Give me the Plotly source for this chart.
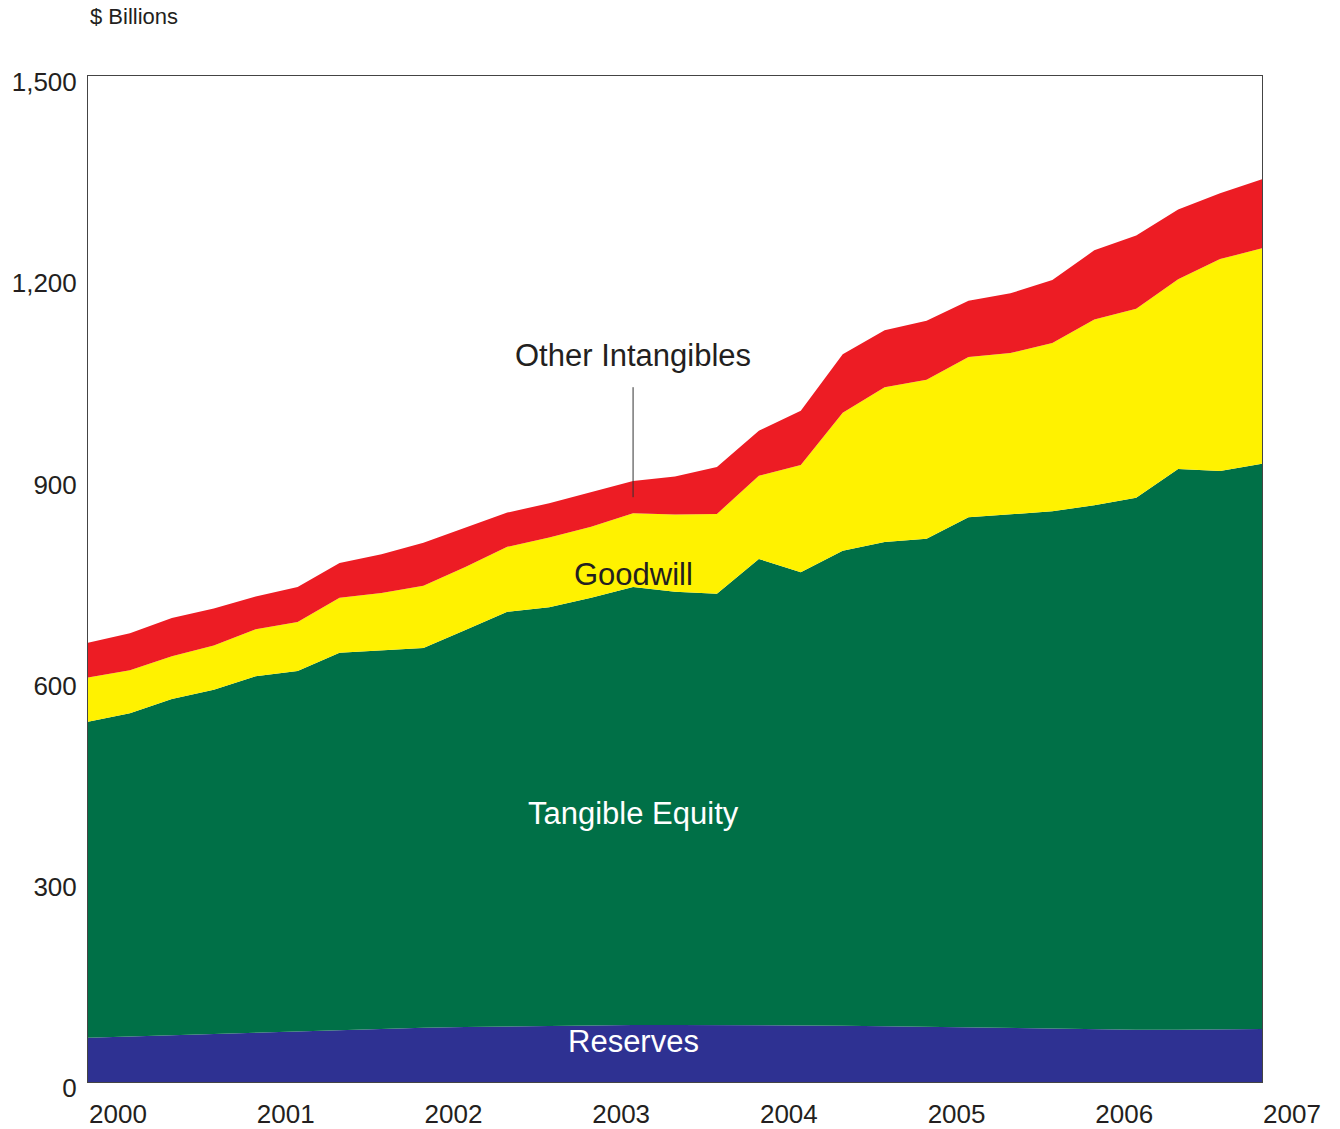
import plotly.graph_objects as go

# Quarterly observations, plotted on a fractional-year axis
quarters = [2000.00, 2000.25, 2000.50, 2000.75, 2001.00, 2001.25, 2001.50, 2001.75,
            2002.00, 2002.25, 2002.50, 2002.75, 2003.00, 2003.25, 2003.50, 2003.75,
            2004.00, 2004.25, 2004.50, 2004.75, 2005.00, 2005.25, 2005.50, 2005.75,
            2006.00, 2006.25, 2006.50, 2006.75, 2007.00]

# $ billions, stacked bottom to top
reserves = [66, 68, 70, 72, 73, 75, 77, 79, 81, 82, 83, 84, 84, 85, 85, 85,
            85, 85, 84, 83, 82, 81, 80, 79, 78, 78, 78, 78, 79]
tangible_equity = [471, 482, 501, 513, 532, 538, 563, 565, 566, 592, 618, 624, 638, 653, 646, 643,
                   695, 675, 708, 722, 728, 761, 767, 772, 782, 793, 836, 833, 843]
goodwill = [66, 64, 64, 66, 70, 73, 82, 85, 93, 94, 97, 104, 106, 110, 115, 119,
            124, 160, 206, 231, 237, 239, 240, 251, 277, 282, 283, 316, 321]
other_intangibles = [52, 55, 57, 55, 49, 52, 52, 58, 64, 58, 51, 51, 51, 48, 57, 70,
                     67, 81, 87, 85, 88, 84, 89, 94, 103, 109, 104, 98, 103]

year_ticks = [2000, 2001, 2002, 2003, 2004, 2005, 2006, 2007]
value_ticks = [0, 300, 600, 900, 1200, 1500]

FONT = "Arial, Liberation Sans, Helvetica, sans-serif"
TEXT = "#231f20"

layers = [
    ("Reserves", reserves, "#2e3192"),
    ("Tangible Equity", tangible_equity, "#007047"),
    ("Goodwill", goodwill, "#fff200"),
    ("Other Intangibles", other_intangibles, "#ed1c24"),
]

fig = go.Figure()
for name, vals, color in layers:
    fig.add_trace(go.Scatter(
        x=quarters, y=vals, name=name, mode="lines",
        stackgroup="one", line=dict(width=0, color=color),
        fillcolor=color, hoverinfo="x+y+name",
    ))

# In-chart series labels
labels = [
    ("Other Intangibles", 2003.25, 1084, TEXT),
    ("Goodwill", 2003.25, 756, TEXT),
    ("Tangible Equity", 2003.25, 401, "white"),
    ("Reserves", 2003.25, 60, "white"),
]
for text, x, y, col in labels:
    fig.add_annotation(x=x, y=y, text=text, showarrow=False,
                       font=dict(family=FONT, size=31, color=col),
                       xanchor="center", yanchor="middle")

# Leader line from the Other Intangibles label into its band
fig.add_shape(type="line", x0=2003.25, x1=2003.25, y0=872, y1=1036,
              xref="x", yref="y", line=dict(color="#333333", width=1))

# Units label above the value axis
fig.add_annotation(text="$ Billions", xref="paper", yref="paper", x=0, y=1.0596,
                   xanchor="left", yanchor="middle", showarrow=False,
                   font=dict(family=FONT, size=22, color=TEXT))

fig.update_layout(
    width=1340, height=1129,
    margin=dict(l=88, r=78, t=76, b=47),
    paper_bgcolor="white", plot_bgcolor="white",
    showlegend=False,
    font=dict(family=FONT, color=TEXT),
)
fig.update_xaxes(
    range=[2000, 2007], tickvals=year_ticks, ticktext=[str(y) for y in year_ticks],
    showgrid=False, zeroline=False, ticks="", automargin=False,
    showline=True, mirror=True, linecolor="#444444", linewidth=1,
    tickfont=dict(family=FONT, size=26, color=TEXT),
    ticklabelshift=30, ticklabelstandoff=9,
)
fig.update_yaxes(
    range=[0, 1500], tickvals=value_ticks, tickformat=",",
    showgrid=False, zeroline=False, ticks="", automargin=False,
    showline=True, mirror=True, linecolor="#444444", linewidth=1,
    tickfont=dict(family=FONT, size=26, color=TEXT),
    ticklabelshift=6, ticklabelstandoff=5,
)

fig.write_html("out.html")
